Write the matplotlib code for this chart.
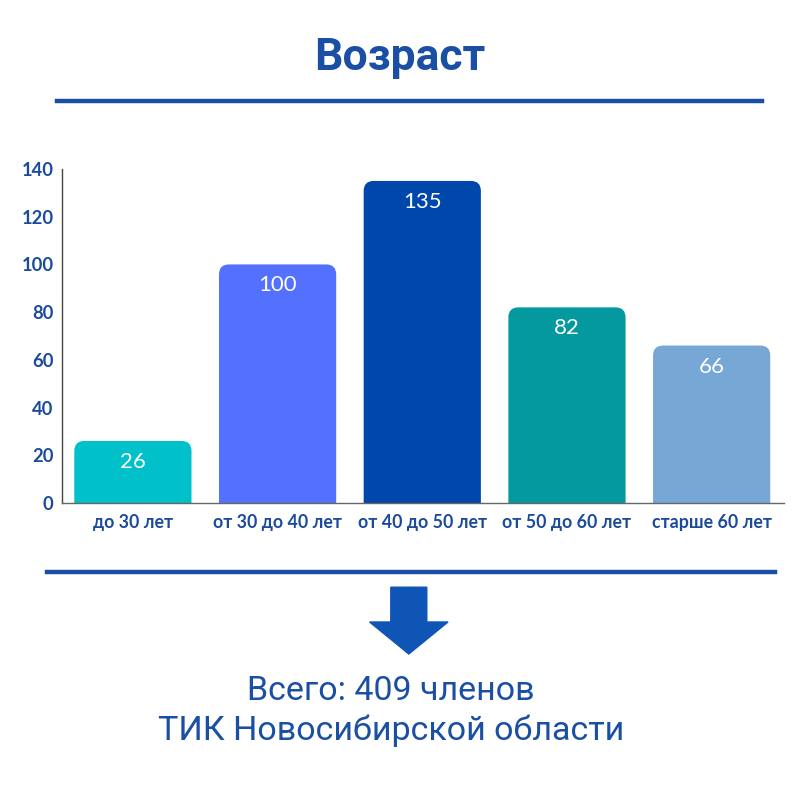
import numpy as np
import matplotlib.pyplot as plt
from matplotlib.path import Path
from matplotlib.patches import PathPatch, FancyArrow
from matplotlib.lines import Line2D

# ==== Data ====
categories = ['до 30 лет', 'от 30 до 40 лет', 'от 40 до 50 лет', 'от 50 до 60 лет', 'старше 60 лет']
values = [26, 100, 135, 82, 66]
bar_colors = ['#00C1C9', '#5370FE', '#0047AB', '#03999E', '#76A7D5']
yticks = [0, 20, 40, 60, 80, 100, 120, 140]

TITLE = 'Возраст'
FOOTER = ['Всего: 409 членов', 'ТИК Новосибирской области']
BLUE = '#1A4FA3'
TEXT_BLUE = '#1C4B9B'

plt.rcParams['font.family'] = ['Lato', 'DejaVu Sans']

fig = plt.figure(figsize=(8, 8), dpi=100)
ax = fig.add_axes([0.0775, 0.37125, 0.9025, 0.4175])

# ---- bars, then rounded tops ----
bars = ax.bar(np.arange(len(values)), values, width=0.81, color=bar_colors)
ax.set_xlim(-0.49, 4.5)
ax.set_ylim(0, 140)

# radius ~10 px in data units
rx = 10 / 145
ry = 10 / (334 / 140)
for b in bars:
    x0, w, h = b.get_x(), b.get_width(), b.get_height()
    x1 = x0 + w
    verts = [(x0, 0), (x0, h - ry), (x0, h), (x0 + rx, h),
             (x1 - rx, h), (x1, h), (x1, h - ry), (x1, 0), (x0, 0)]
    codes = [Path.MOVETO, Path.LINETO, Path.CURVE3, Path.CURVE3,
             Path.LINETO, Path.CURVE3, Path.CURVE3, Path.LINETO, Path.CLOSEPOLY]
    ax.add_patch(PathPatch(Path(verts, codes), facecolor=b.get_facecolor(),
                           edgecolor='none', zorder=2))
    b.set_visible(False)
    ax.text(x0 + w / 2, h - 8.8, str(int(h)), ha='center', va='center',
            color='white', fontsize=16, zorder=3)

ax.set_yticks(yticks)
ax.set_xticks(np.arange(len(categories)))
ax.set_xticklabels(categories, fontsize=12.8, fontweight='bold', color=TEXT_BLUE)
ax.set_yticklabels([str(t) for t in yticks], fontsize=13.2, fontweight='bold', color=TEXT_BLUE)
ax.tick_params(length=0)
ax.tick_params(axis='y', pad=6)
ax.tick_params(axis='x', pad=8)
for s in ['top', 'right']:
    ax.spines[s].set_visible(False)
ax.spines['left'].set_color('#444444')
ax.spines['bottom'].set_color('#666666')
ax.spines['left'].set_linewidth(1.0)
ax.spines['bottom'].set_linewidth(1.0)

# ---- title and decorations ----
fig.text(0.5, 0.928, TITLE, ha='center', va='center', fontsize=32,
         fontweight='bold', color=BLUE, family=['Roboto', 'DejaVu Sans'])
fig.add_artist(Line2D([0.071, 0.953], [0.8735, 0.8735], color=BLUE, lw=3.2))
fig.add_artist(Line2D([0.059, 0.969], [0.285, 0.285], color=BLUE, lw=3.2))
fig.add_artist(FancyArrow(0.511, 0.266, 0, -0.0835, width=0.045, head_width=0.098,
                          head_length=0.04, length_includes_head=True,
                          color='#0F55B5', transform=fig.transFigure))

fig.text(0.489, 0.136, FOOTER[0], ha='center', va='center', fontsize=24.5,
         color=BLUE, family=['Roboto', 'DejaVu Sans'])
fig.text(0.489, 0.086, FOOTER[1], ha='center', va='center', fontsize=24.5,
         color=BLUE, family=['Roboto', 'DejaVu Sans'])

fig.savefig('out.png', dpi=100)
